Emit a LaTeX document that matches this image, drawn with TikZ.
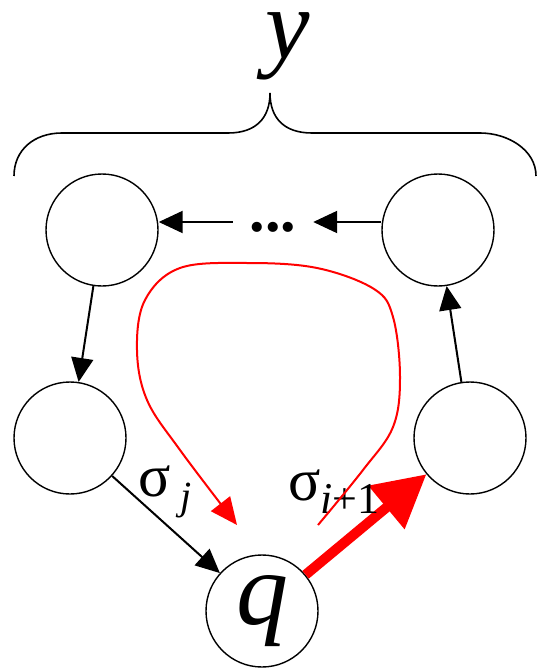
\documentclass[tikz,border=0pt]{standalone}
\usepackage{fontspec}
\setmainfont{Liberation Serif}
\usepackage{xcolor}
\definecolor{pathred}{RGB}{255,0,0}
\usetikzlibrary{arrows.meta, positioning}

\begin{document}
\begin{tikzpicture}[x=1pt, y=-1pt,
    state/.style={circle, draw, line width=1.4pt, minimum size=112pt, inner sep=0pt},
    arr/.style={line width=2pt, -{Triangle[length=24pt, width=22pt]}},
    lbl/.style={font=\fontsize{60}{60}\selectfont}]
  \useasboundingbox (0,0) rectangle (538,668);

  % --- Brace with the word y ---
  \node[inner sep=0pt, font=\fontsize{100}{100}\selectfont\itshape] (word) at (288,46) {y};
  \draw[line width=1.6pt] (14,176) .. controls (14,150) and (34,133) .. (62,133)
    -- (228,133) .. controls (256,133) and (270,118) .. (270,93)
    .. controls (270,118) and (284,133) .. (312,133)
    -- (480,133) .. controls (508,133) and (536,150) .. (536,176);

  % --- States ---
  \node[state] (tl) at (102,230) {};
  \node[state] (tr) at (438,230) {};
  \node[state] (ml) at (70,438) {};
  \node[state] (mr) at (470,438) {};
  \node[state, font=\fontsize{104}{104}\selectfont\itshape] (q) at (262,611) {\raisebox{10pt}{q}};
  \node[minimum width=80pt, inner sep=0pt, font=\fontsize{62}{62}\selectfont\bfseries] (dots) at (273,222) {\raisebox{-19pt}{...}};

  % --- Transitions ---
  \draw[arr] (tr.west |- dots.east) -- (dots.east);
  \draw[arr] (dots.west) -- (tl.east |- dots.west);
  \draw[arr] (tl) -- (ml);
  \draw[arr] (ml) -- (q);
  \draw[arr] (mr) -- (tr);
  \draw[pathred, line width=10pt, -{Triangle[length=52pt, width=54pt]}] (q) -- (mr);

  % --- Labels ---
  \node[lbl] (sj) at (165,492) {σ\,\raisebox{-13pt}{\fontsize{40}{40}\selectfont\itshape j}};
  \node[lbl] (si) at (334,492) {σ\raisebox{-13pt}{\fontsize{44}{44}\selectfont\itshape i\upshape +1}};

  % --- Red loop ---
  \coordinate (loopstart) at (318,525);
  \coordinate (loopend) at (237,525);
  \draw[pathred, line width=2pt, -{Triangle[length=27pt, width=24pt]}]
    plot[smooth, tension=0.6] coordinates {(loopstart) (363,470) (393,427) (400,377)
      (393,317) (374,289) (317,268) (247,263) (180,268) (145,300) (137,350)
      (147,400) (180,450) (loopend)};
\end{tikzpicture}
\end{document}
